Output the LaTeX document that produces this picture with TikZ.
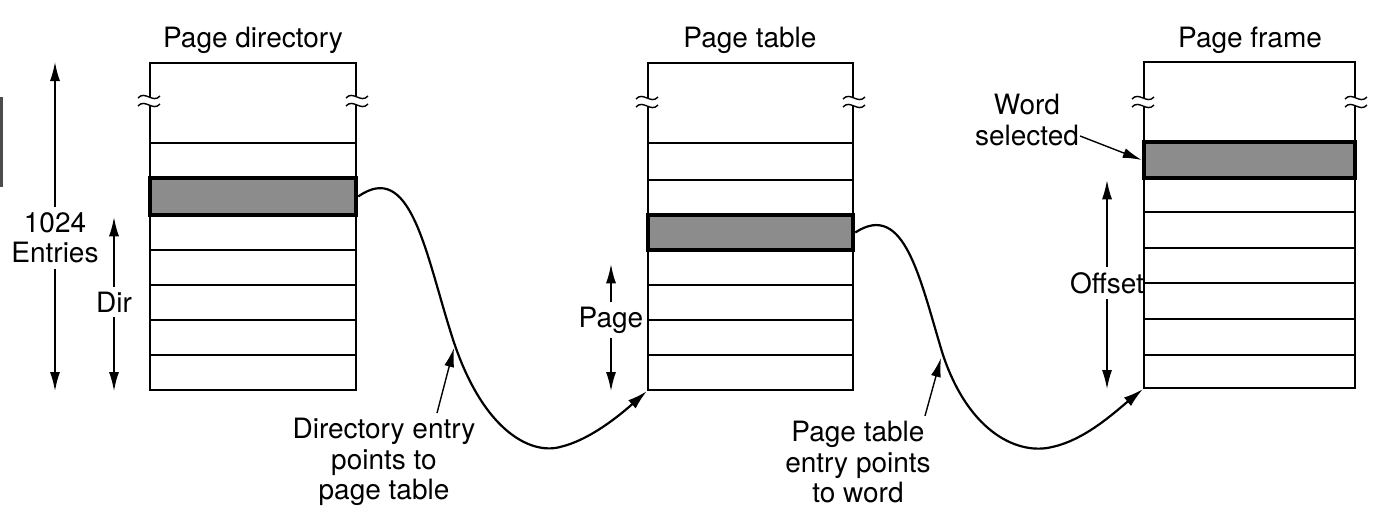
\documentclass[tikz,border=0pt]{standalone}
\usepackage{fontspec}
\setmainfont{TeX Gyre Heros}
\usetikzlibrary{positioning,calc,arrows.meta}
\definecolor{selgray}{HTML}{8C8C8C}
\tikzset{
  tablebox/.style={draw, line width=2pt, inner sep=0pt},
  rowline/.style={line width=2pt},
  selrow/.style={draw, fill=selgray, line width=4.5pt, inner sep=0pt},
  lbl/.style={font=\fontsize{28}{30.5}\selectfont, align=center, inner sep=5pt},
  ptr/.style={line width=1.4pt, -{Latex[length=19pt,width=10pt]}},
  link/.style={line width=2.2pt, -{Latex[length=20pt,width=11pt]}},
  breakmark/.pic={
    \fill[white] (-5,-4) rectangle (5,4);
    \foreach \dy in {-4,4}
      \draw[line width=1.4pt] (-11,\dy+1) .. controls (-4,\dy-7) and (4,\dy+7) .. (11,\dy-1);
  }
}

\begin{document}
\begin{tikzpicture}[x=1pt, y=-1pt]
  \useasboundingbox (0,0) rectangle (1378,520);
  \fill[black!70] (0,97) rectangle (2.5,187);

  % Page directory
  \node[lbl] (dirtitle) at (253,40) {Page directory};
  \node[tablebox, minimum width=206pt, minimum height=327pt] (dir) at (253,226.5) {};
  \foreach \y in {143,250,285,320,355}
    \draw[rowline] (dir.west |- 0,\y) -- (dir.east |- 0,\y);
  \node[selrow, minimum width=206pt, minimum height=37pt] (dirsel) at (253,196.5) {};
  \pic at (dir.west |- 0,101) {breakmark};
  \pic at (dir.east |- 0,101) {breakmark};

  % Page table
  \node[lbl] (tbltitle) at (750,40) {Page table};
  \node[tablebox, minimum width=205pt, minimum height=327pt] (tbl) at (750.5,226.5) {};
  \foreach \y in {143,180,285,320,355}
    \draw[rowline] (tbl.west |- 0,\y) -- (tbl.east |- 0,\y);
  \node[selrow, minimum width=205pt, minimum height=35pt] (tblsel) at (750.5,232.5) {};
  \pic at (tbl.west |- 0,102) {breakmark};
  \pic at (tbl.east |- 0,102) {breakmark};

  % Page frame
  \node[lbl] (frametitle) at (1250,40) {Page frame};
  \node[tablebox, minimum width=211pt, minimum height=326pt] (frame) at (1249.5,225) {};
  \foreach \y in {212,248,283,319,355}
    \draw[rowline] (frame.west |- 0,\y) -- (frame.east |- 0,\y);
  \node[selrow, minimum width=211pt, minimum height=36pt] (framesel) at (1249.5,160) {};
  \pic at (frame.west |- 0,102) {breakmark};
  \pic at (frame.east |- 0,102) {breakmark};

  % Size arrows
  \node[lbl] (entries) at (55,238) {1024\\Entries};
  \draw[ptr] (entries.north) -- (entries |- dir.north);
  \draw[ptr] (entries.south) -- (entries |- dir.south);
  \node[lbl] (dirlbl) at (114,302) {Dir};
  \draw[ptr] (dirlbl.north) -- (dirlbl |- dirsel.south);
  \draw[ptr] (dirlbl.south) -- (dirlbl |- dir.south);
  \node[lbl] (pagelbl) at (611,320) {Page};
  \draw[ptr] (pagelbl.north) -- ($(pagelbl |- tblsel.south)+(0,12)$);
  \draw[ptr] (pagelbl.south) -- (pagelbl |- tbl.south);
  \node[lbl] (offlbl) at (1107,283) {Offset};
  \draw[ptr] (offlbl.north) -- (offlbl |- framesel.south);
  \draw[ptr] (offlbl.south) -- (offlbl |- frame.south);

  % Links between the tables
  \draw[link] (dirsel.east) .. controls (410,160) and (425,250) .. (450,330)
    .. controls (480,430) and (530,455) .. (560,447)
    .. controls (590,440) and (620,415) .. (tbl.south west);
  \draw[link] (tblsel.east) .. controls (905,200) and (920,280) .. (943,355)
    .. controls (970,435) and (1020,455) .. (1052,447)
    .. controls (1085,440) and (1115,412) .. (frame.south west);

  % Notes
  \coordinate (dirhit) at (454,348);
  \coordinate (tblhit) at (941,358);
  \node[lbl] (dirnote) at (384,462) {Directory entry\\points to\\page table};
  \draw[ptr] ($(dirnote.north)+(53,0)$) -- (dirhit);
  \node[lbl] (tblnote) at (858,462) {Page table\\entry points\\to word};
  \draw[ptr] ($(tblnote.north)+(67,0)$) -- (tblhit);
  \node[lbl] (wordnote) at (1027,120) {Word\\selected};
  \draw[ptr] ($(wordnote.east)+(-4,16)$) -- (framesel.west);
\end{tikzpicture}
\end{document}
